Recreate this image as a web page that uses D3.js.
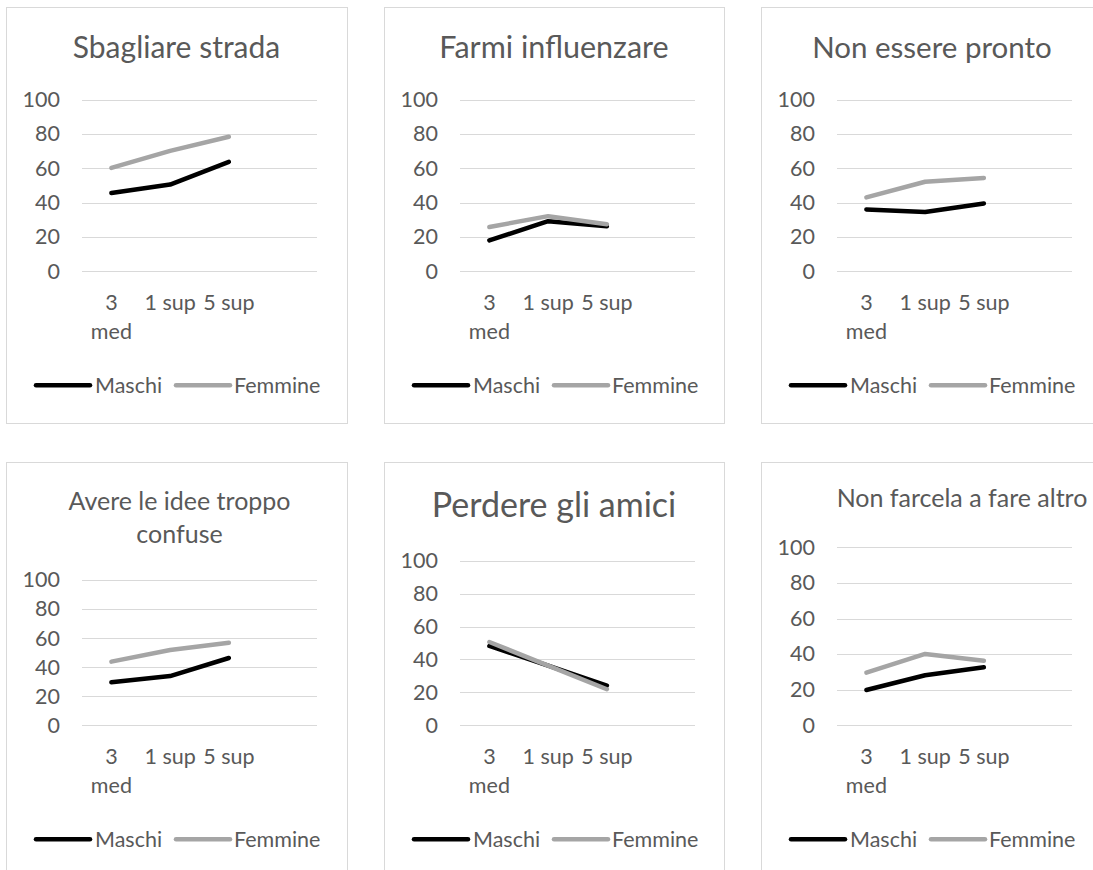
<!DOCTYPE html>
<html>
<head>
<meta charset="utf-8">
<script src="https://cdn.jsdelivr.net/npm/d3@7/dist/d3.min.js"></script>
<style>
  html, body { margin: 0; padding: 0; background: #fff; }
  svg { display: block; }
  text { font-family: Lato, "Open Sans", sans-serif; fill: #595959; }
</style>
</head>
<body>
<svg id="chart" width="1093" height="870"></svg>
<script>
// ---- DATA ----
const categories = ["3 med", "1 sup", "5 sup", ""];
const seriesNames = ["Maschi", "Femmine"];
const titles = [
  ["Sbagliare strada"],
  ["Farmi influenzare"],
  ["Non essere pronto"],
  ["Avere le idee troppo", "confuse"],
  ["Perdere gli amici"],
  ["Non farcela a fare altro"]
];
const maschi = [
  [45.6, 50.5, 63.7],
  [18.0, 29.2, 26.2],
  [36.0, 34.5, 39.5],
  [29.6, 33.9, 46.3],
  [48.2, 36.2, 24.1],
  [19.8, 28.1, 32.6]
];
const femmine = [
  [60.2, 70.1, 78.3],
  [25.8, 32.1, 27.4],
  [43.0, 52.1, 54.3],
  [43.8, 51.8, 56.8],
  [50.6, 36.3, 21.9],
  [29.6, 40.1, 36.3]
];
const yTicks = [0, 20, 40, 60, 80, 100];

// ---- LAYOUT / STYLE ----
const seriesColors = ["#000000", "#a5a5a5"];
const labelSize = 21.5;
const layout = [
  { left: 6,   top: 7,   w: 341, h: 416, yTop: 99.5,  yBot: 271.3, tSize: 30, tY: [58],       tCx: 176.5 },
  { left: 384, top: 7,   w: 340, h: 416, yTop: 99.5,  yBot: 271.3, tSize: 30.5, tY: [58],     tCx: 554 },
  { left: 761, top: 7,   w: 341, h: 416, yTop: 99.5,  yBot: 271.3, tSize: 29.5, tY: [58],     tCx: 932 },
  { left: 6,   top: 462, w: 341, h: 420, yTop: 580,   yBot: 725.3, tSize: 25, tY: [510, 543], tCx: 179.5 },
  { left: 384, top: 462, w: 340, h: 420, yTop: 560.7, yBot: 725.3, tSize: 34, tY: [517],      tCx: 554 },
  { left: 761, top: 462, w: 341, h: 420, yTop: 547.3, yBot: 725.3, tSize: 25, tY: [507],      tCx: 962 }
];

const svg = d3.select("#chart");

layout.forEach((L, i) => {
  const g = svg.append("g");
  // chart box
  g.append("rect")
    .attr("x", L.left + 0.5).attr("y", L.top + 0.5)
    .attr("width", L.w).attr("height", L.h)
    .attr("fill", "#fff").attr("stroke", "#d9d9d9").attr("stroke-width", 1);

  // title
  const t = g.append("text")
    .attr("text-anchor", "middle")
    .attr("font-size", L.tSize);
  titles[i].forEach((line, k) => {
    t.append("tspan").attr("x", L.tCx).attr("y", L.tY[k]).text(line);
  });

  const x0 = L.left + 76, x1 = L.left + 311;
  const x = d3.scaleBand().domain(categories).range([x0, x1]);
  const y = d3.scaleLinear().domain([0, 100]).range([L.yBot, L.yTop]);

  // gridlines
  g.append("g").selectAll("line").data(yTicks).join("line")
    .attr("x1", x0).attr("x2", x1)
    .attr("y1", d => Math.round(y(d)) + 0.5).attr("y2", d => Math.round(y(d)) + 0.5)
    .attr("stroke", "#d9d9d9").attr("stroke-width", 1);

  // y axis labels
  const yAxis = d3.axisLeft(y).tickValues(yTicks).tickSize(0).tickPadding(22);
  const ya = g.append("g").attr("transform", `translate(${x0},0)`).call(yAxis);
  ya.select(".domain").remove();
  ya.selectAll("text").attr("font-size", labelSize).attr("fill", "#595959")
    .style("font-family", "Lato, 'Open Sans', sans-serif");

  // x axis labels (wrapped)
  const xAxis = d3.axisBottom(x).tickSize(0).tickPadding(0);
  const xa = g.append("g").attr("transform", `translate(0,${L.yBot})`).call(xAxis);
  xa.select(".domain").remove();
  xa.selectAll("text").each(function(d) {
    const el = d3.select(this);
    const words = d === "3 med" ? ["3", "med"] : [d];
    el.text(null).attr("y", 0).attr("dy", null)
      .attr("font-size", labelSize).attr("fill", "#595959")
      .style("font-family", "Lato, 'Open Sans', sans-serif");
    words.forEach((w, k) => {
      el.append("tspan").attr("x", 0).attr("y", 39 + k * 28.5).text(w);
    });
  });

  // lines
  const line = d3.line()
    .x((d, j) => x(categories[j]) + x.bandwidth() / 2)
    .y(d => y(d));
  [maschi[i], femmine[i]].forEach((vals, s) => {
    g.append("path").datum(vals)
      .attr("d", line)
      .attr("fill", "none")
      .attr("stroke", seriesColors[s])
      .attr("stroke-width", 4.5)
      .attr("stroke-linecap", "round")
      .attr("stroke-linejoin", "round");
  });

  // legend
  const ly = L.yBot + 114;
  const legendPos = [{ l1: 30, l2: 84, tx: 89 }, { l1: 170, l2: 224, tx: 228 }];
  seriesNames.forEach((name, s) => {
    const p = legendPos[s];
    g.append("line")
      .attr("x1", L.left + p.l1).attr("x2", L.left + p.l2)
      .attr("y1", ly).attr("y2", ly)
      .attr("stroke", seriesColors[s]).attr("stroke-width", 4.5)
      .attr("stroke-linecap", "round");
    g.append("text")
      .attr("x", L.left + p.tx).attr("y", ly)
      .attr("dy", "0.35em")
      .attr("font-size", labelSize)
      .text(name);
  });
});
</script>
</body>
</html>
